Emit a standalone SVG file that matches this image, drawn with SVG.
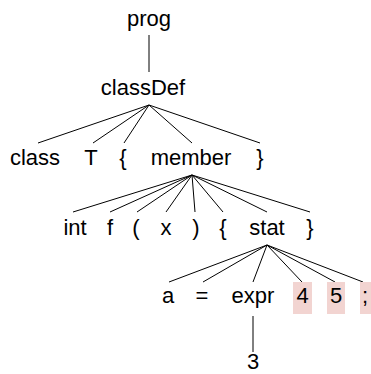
<svg xmlns="http://www.w3.org/2000/svg" width="371" height="374" viewBox="0 0 371 374">
<style>
text{font-family:"Liberation Sans",Arial,sans-serif;font-size:22px;fill:#000;text-anchor:middle}
.e line{stroke:#000;stroke-width:1}
.hl{fill:#f2d4d1}
</style>
<rect width="371" height="374" fill="#fff"/>
<g class="e" id="edges">
<line x1="149" y1="35" x2="149" y2="72"/>
<line x1="149" y1="105" x2="38" y2="143"/>
<line x1="149" y1="105" x2="93" y2="143"/>
<line x1="149" y1="105" x2="124" y2="143"/>
<line x1="149" y1="105" x2="192" y2="143"/>
<line x1="149" y1="105" x2="260" y2="143"/>
<line x1="192" y1="175" x2="73" y2="212"/>
<line x1="192" y1="175" x2="110" y2="212"/>
<line x1="192" y1="175" x2="137" y2="212"/>
<line x1="192" y1="175" x2="166" y2="212"/>
<line x1="192" y1="175" x2="195" y2="212"/>
<line x1="192" y1="175" x2="223" y2="212"/>
<line x1="192" y1="175" x2="267" y2="212"/>
<line x1="192" y1="175" x2="310" y2="212"/>
<line x1="267" y1="245" x2="169" y2="282"/>
<line x1="267" y1="245" x2="203" y2="282"/>
<line x1="267" y1="245" x2="253" y2="282"/>
<line x1="267" y1="245" x2="302" y2="282"/>
<line x1="267" y1="245" x2="335" y2="282"/>
<line x1="267" y1="245" x2="363" y2="282"/>
<line x1="253" y1="316" x2="253" y2="352"/>
</g>
<g id="prog"><text x="149" y="26">prog</text></g>
<g id="classDef"><text x="143" y="95">classDef</text></g>
<g id="class"><text x="35" y="165">class</text></g>
<g id="T"><text x="91" y="165">T</text></g>
<g id="lbrace1"><text x="123" y="165">{</text></g>
<g id="member"><text x="191" y="165">member</text></g>
<g id="rbrace1"><text x="260" y="165">}</text></g>
<g id="int"><text x="75" y="235">int</text></g>
<g id="f"><text x="110" y="235">f</text></g>
<g id="lparen"><text x="136" y="235">(</text></g>
<g id="x"><text x="166" y="235">x</text></g>
<g id="rparen"><text x="196" y="235">)</text></g>
<g id="lbrace2"><text x="223" y="235">{</text></g>
<g id="stat"><text x="267" y="235">stat</text></g>
<g id="rbrace2"><text x="310" y="235">}</text></g>
<g id="a"><text x="168" y="303">a</text></g>
<g id="eq"><text x="202" y="303">=</text></g>
<g id="expr"><text x="253" y="303">expr</text></g>
<g id="n4"><rect class="hl" x="293" y="282" width="19" height="32"/><text x="302.5" y="303">4</text></g>
<g id="n5"><rect class="hl" x="327" y="282" width="18" height="32"/><text x="336" y="303">5</text></g>
<g id="semi"><rect class="hl" x="360" y="282" width="11" height="32"/><text x="365" y="303">;</text></g>
<g id="n3"><text x="253" y="369">3</text></g>
</svg>
